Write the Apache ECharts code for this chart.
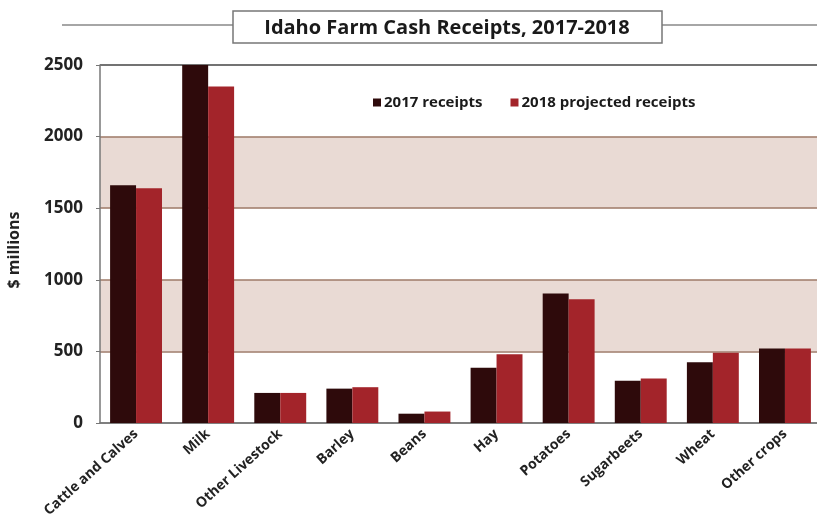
<!DOCTYPE html>
<html>
<head>
<meta charset="utf-8">
<script src="https://cdn.jsdelivr.net/npm/echarts@6/dist/echarts.min.js"></script>
<style>
  html, body { margin: 0; padding: 0; background: #fff; }
  #chart { width: 817px; height: 516px; }
</style>
</head>
<body>
<div id="chart"></div>
<script>
// Idaho farm cash receipts by commodity, $ millions
const categories = ['Cattle and Calves', 'Milk', 'Other Livestock', 'Barley', 'Beans',
  'Hay', 'Potatoes', 'Sugarbeets', 'Wheat', 'Other crops'];
const receipts2017 = [1660, 2500, 210, 240, 65, 385, 905, 295, 425, 520];
const receipts2018 = [1640, 2350, 210, 250, 80, 480, 865, 310, 490, 520];
const yTicks = [0, 500, 1000, 1500, 2000, 2500];

const chart = echarts.init(document.getElementById('chart'));
const font = '"Open Sans", "DejaVu Sans", sans-serif';

chart.setOption({
  animation: false,
  backgroundColor: '#fff',
  textStyle: { fontFamily: font },
  grid: { left: 100, right: -4, top: 65, bottom: 93, containLabel: false, outerBoundsMode: 'none' },
  legend: {
    top: 90, left: 368,
    itemWidth: 8, itemHeight: 8, itemGap: 28,
    icon: 'rect',
    textStyle: { fontFamily: font, fontWeight: 'bold', fontSize: 15, color: '#1a1a1a', padding: [0, 0, 0, -2] },
    data: ['2017 receipts', '2018 projected receipts']
  },
  xAxis: {
    type: 'category',
    data: categories,
    axisLine: { lineStyle: { color: '#777', width: 1.5 } },
    axisTick: { show: false },
    axisLabel: {
      rotate: 42, interval: 0, margin: 9,
      fontFamily: font, fontWeight: 'bold', fontSize: 14, color: '#222'
    }
  },
  yAxis: {
    type: 'value',
    min: 0, max: 2500, interval: 500,
    name: '$ millions',
    nameLocation: 'middle',
    nameRotate: 90,
    nameGap: 78,
    nameTextStyle: { fontFamily: font, fontWeight: 'bold', fontSize: 16, color: '#222', padding: [0, 12, 0, 0] },
    axisLine: { show: true, lineStyle: { color: '#777', width: 1.5 } },
    axisTick: { show: true, length: 4, lineStyle: { color: '#777' } },
    axisLabel: {
      margin: 17, fontFamily: font, fontWeight: 'bold', fontSize: 17, color: '#222',
      formatter: v => (yTicks.includes(v) ? String(v) : '')
    },
    splitLine: {
      show: true,
      lineStyle: { color: ['#777', '#9e7a68', '#9e7a68', '#9e7a68', '#9e7a68', '#444'], width: 1.5 }
    },
    splitArea: {
      show: true,
      areaStyle: { color: ['#ffffff', '#e9dad4'] }
    }
  },
  series: [
    {
      name: '2017 receipts',
      type: 'bar',
      data: receipts2017,
      barGap: '0%',
      barCategoryGap: '28%',
      itemStyle: { color: '#2e0a0b' }
    },
    {
      name: '2018 projected receipts',
      type: 'bar',
      data: receipts2018,
      barGap: '0%',
      barCategoryGap: '28%',
      itemStyle: { color: '#a3242a' }
    }
  ],
  graphic: [
    { type: 'line', z: 10, shape: { x1: 62, y1: 25, x2: 817, y2: 25 }, style: { stroke: '#888', lineWidth: 1.5 } },
    { type: 'rect', z: 11, shape: { x: 233, y: 11, width: 429, height: 32 }, style: { fill: '#fff', stroke: '#777', lineWidth: 1.5 } },
    {
      type: 'text', z: 12, x: 447, y: 28,
      style: {
        text: 'Idaho Farm Cash Receipts, 2017-2018', font: 'bold 20px ' + font, fill: '#1a1a1a',
        textAlign: 'center', textVerticalAlign: 'middle'
      }
    }
  ]
});
</script>
</body>
</html>
